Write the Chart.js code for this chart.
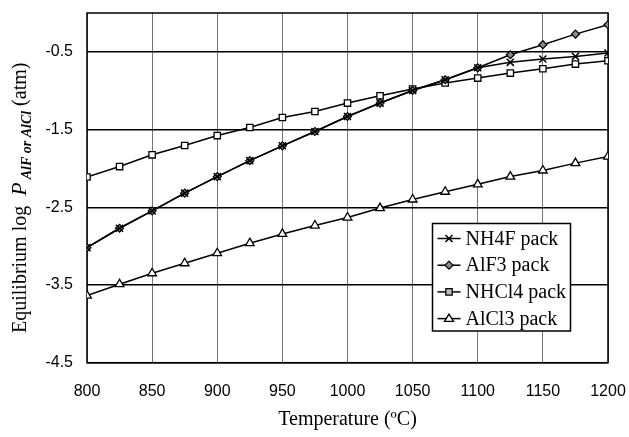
<!DOCTYPE html>
<html>
<head>
<meta charset="utf-8">
<script src="https://cdn.jsdelivr.net/npm/chart.js@4"></script>
<style>
html,body{margin:0;padding:0;background:#fff;}
canvas{display:block;}
</style>
</head>
<body>
<canvas id="c" width="629" height="437" style="width:629px;height:437px"></canvas>
<script>
// ---- data ----
const temperatures = [800, 825, 850, 875, 900, 925, 950, 975, 1000, 1025, 1050, 1075, 1100, 1125, 1150, 1175, 1200];
const nh4fPack  = [-3.02, -2.77, -2.546, -2.318, -2.105, -1.90, -1.709, -1.525, -1.332, -1.159, -0.997, -0.859, -0.705, -0.635, -0.592, -0.559, -0.515];
const alf3Pack  = [-3.02, -2.77, -2.546, -2.318, -2.105, -1.90, -1.709, -1.525, -1.332, -1.159, -0.997, -0.859, -0.705, -0.537, -0.408, -0.272, -0.151];
const nhcl4Pack = [-2.11, -1.976, -1.825, -1.705, -1.577, -1.473, -1.345, -1.267, -1.159, -1.065, -0.979, -0.90, -0.837, -0.773, -0.717, -0.657, -0.614];
const alcl3Pack = [-3.637, -3.49, -3.349, -3.22, -3.091, -2.962, -2.843, -2.735, -2.632, -2.51, -2.40, -2.30, -2.205, -2.105, -2.027, -1.932, -1.847];
const seriesLabels = ['NH4F pack', 'AlF3 pack', 'NHCl4 pack', 'AlCl3 pack'];
const xTicks = [800, 850, 900, 950, 1000, 1050, 1100, 1150, 1200];
const yTicks = [-4.5, -3.5, -2.5, -1.5, -0.5];

const toPts = arr => arr.map((v, i) => ({x: temperatures[i], y: v}));

const markerStyles = [
  {pointStyle: 'crossRot', radius: 5, bg: '#000', bw: 1.5},
  {pointStyle: 'rectRot', radius: 4, bg: '#888', bw: 1.2},
  {pointStyle: 'rect', radius: 4.5, bg: '#fff', bw: 1.3},
  {pointStyle: 'triangle', radius: 5, bg: '#fff', bw: 1.3}
];
const seriesData = [nh4fPack, alf3Pack, nhcl4Pack, alcl3Pack];

const datasets = seriesData.map((d, i) => ({
  label: seriesLabels[i],
  data: toPts(d),
  borderColor: '#000',
  borderWidth: 1.5,
  backgroundColor: markerStyles[i].bg,
  pointStyle: markerStyles[i].pointStyle,
  pointRadius: markerStyles[i].radius,
  pointBorderWidth: markerStyles[i].bw,
  pointBorderColor: '#000',
  pointBackgroundColor: markerStyles[i].bg,
  tension: 0,
  fill: false
}));

function drawMarker(ctx, style, x, y) {
  const m = style;
  const r = m.radius;
  ctx.save();
  ctx.lineWidth = m.bw;
  ctx.strokeStyle = '#000';
  ctx.fillStyle = m.bg;
  ctx.beginPath();
  if (m.pointStyle === 'crossRot') {
    const d = r * Math.SQRT1_2;
    ctx.moveTo(x - d, y - d); ctx.lineTo(x + d, y + d);
    ctx.moveTo(x + d, y - d); ctx.lineTo(x - d, y + d);
    ctx.stroke();
  } else if (m.pointStyle === 'rectRot') {
    ctx.moveTo(x, y - r); ctx.lineTo(x + r, y); ctx.lineTo(x, y + r); ctx.lineTo(x - r, y); ctx.closePath();
    ctx.fill(); ctx.stroke();
  } else if (m.pointStyle === 'rect') {
    const s = r * Math.SQRT1_2;
    ctx.rect(x - s, y - s, 2 * s, 2 * s);
    ctx.fillStyle = '#bbb';
    ctx.fill(); ctx.stroke();
  } else if (m.pointStyle === 'triangle') {
    const h = r * 0.9;
    ctx.moveTo(x, y - h); ctx.lineTo(x + h, y + h * 0.6); ctx.lineTo(x - h, y + h * 0.6); ctx.closePath();
    ctx.fill(); ctx.stroke();
  }
  ctx.restore();
}

const framePlugin = {
  id: 'frame',
  beforeDatasetsDraw(chart) {
    const {ctx, chartArea: a} = chart;
    ctx.save();
    ctx.strokeStyle = '#000';
    ctx.lineWidth = 1.5;
    ctx.strokeRect(a.left, a.top, a.right - a.left, a.bottom - a.top);
    ctx.restore();
  },
  afterDraw(chart) {
    const {ctx} = chart;
    // legend
    const lx = 432.5, ly = 223.5, lw = 138, lh = 107.5;
    ctx.save();
    ctx.fillStyle = '#fff';
    ctx.fillRect(lx, ly, lw, lh);
    ctx.strokeStyle = '#000';
    ctx.lineWidth = 1.5;
    ctx.strokeRect(lx, ly, lw, lh);
    ctx.font = '20px "Liberation Serif", "Times New Roman", serif';
    ctx.fillStyle = '#000';
    ctx.textBaseline = 'middle';
    ctx.textAlign = 'left';
    for (let i = 0; i < seriesLabels.length; i++) {
      const ry = ly + 15 + i * 26.7;
      ctx.beginPath();
      ctx.lineWidth = 1.5;
      ctx.moveTo(lx + 5, ry); ctx.lineTo(lx + 28, ry);
      ctx.stroke();
      drawMarker(ctx, markerStyles[i], lx + 16.5, ry);
      ctx.fillText(seriesLabels[i], lx + 33, ry + 1);
    }
    ctx.restore();

    // y axis title (mixed fonts)
    ctx.save();
    ctx.translate(26, 333);
    ctx.rotate(-Math.PI / 2);
    ctx.fillStyle = '#000';
    ctx.textBaseline = 'alphabetic';
    ctx.textAlign = 'left';
    let x = 0;
    ctx.font = '20px "Liberation Serif", serif';
    const t1 = 'Equilibrium log  ';
    ctx.fillText(t1, x, 0); x += ctx.measureText(t1).width;
    ctx.font = 'italic 22px "Liberation Serif", serif';
    ctx.fillText('P', x, 0); x += ctx.measureText('P').width + 3;
    ctx.font = 'italic bold 14px "Liberation Serif", serif';
    const sub = 'AlF or AlCl';
    ctx.fillText(sub, x, 5); x += ctx.measureText(sub).width + 5;
    ctx.font = '20px "Liberation Serif", serif';
    ctx.fillText('(atm)', x, 0);
    ctx.restore();
  }
};

new Chart(document.getElementById('c'), {
  type: 'line',
  data: {datasets},
  plugins: [framePlugin],
  options: {
    responsive: false,
    animation: false,
    devicePixelRatio: 1,
    layout: {padding: {top: 13, right: 21, left: 0, bottom: 0}},
    plugins: {legend: {display: false}, tooltip: {enabled: false}},
    scales: {
      x: {
        type: 'linear',
        min: 800, max: 1200,
        afterBuildTicks: s => { s.ticks = xTicks.map(v => ({value: v})); },
        afterFit: s => { s.height = 74.3; s.paddingLeft = 0; s.paddingRight = 0; },
        grid: {color: '#777', lineWidth: 1, drawTicks: false},
        border: {display: false},
        ticks: {
          color: '#000',
          font: {family: '"Liberation Sans", Arial, sans-serif', size: 16},
          padding: 19,
          maxRotation: 0,
          callback: v => String(v)
        },
        title: {
          display: true,
          text: 'Temperature (ºC)',
          color: '#000',
          font: {family: '"Liberation Serif", "Times New Roman", serif', size: 20},
          padding: {top: 0, bottom: 5}
        }
      },
      y: {
        min: -4.5, max: 0,
        afterBuildTicks: s => { s.ticks = yTicks.map(v => ({value: v})); },
        afterFit: s => { s.width = 87; s.paddingTop = 0; s.paddingBottom = 0; },
        grid: {color: '#000', lineWidth: 1.5, drawTicks: false},
        border: {display: false},
        ticks: {
          color: '#000',
          font: {family: '"Liberation Sans", Arial, sans-serif', size: 16},
          padding: 14,
          callback: v => v.toFixed(1)
        }
      }
    }
  }
});
</script>
</body>
</html>
